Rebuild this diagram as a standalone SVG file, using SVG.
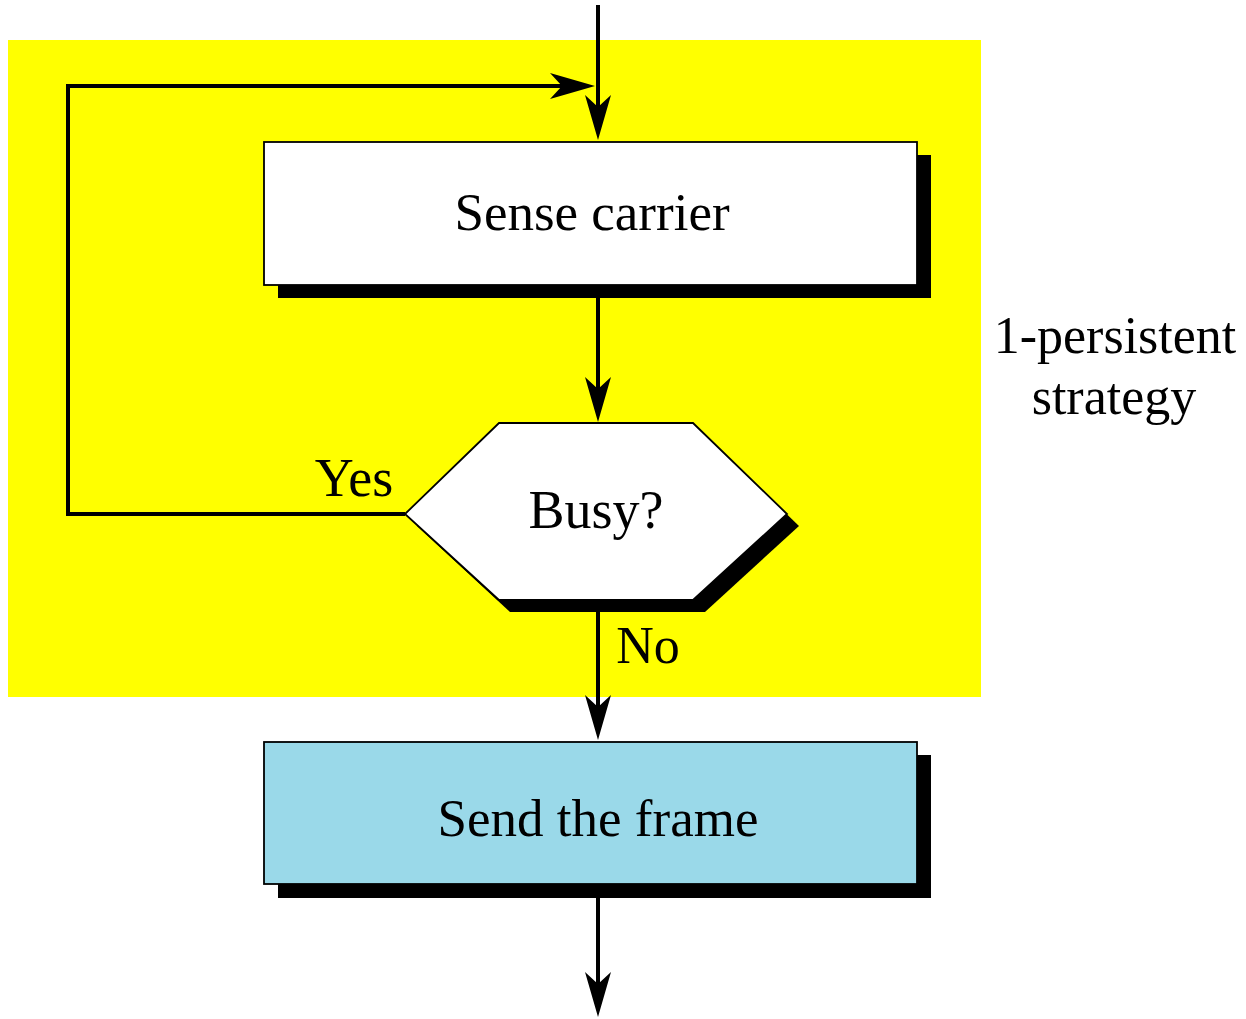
<svg xmlns="http://www.w3.org/2000/svg" width="1246" height="1019" viewBox="0 0 1246 1019">
<style>
.t{font-family:"Liberation Serif","Times New Roman",serif;fill:#000}
.box{stroke:#000;stroke-width:1.8}
.sh{fill:#000}
.c{fill:none;stroke:#000;stroke-width:4}
</style>
<defs>
<marker id="ah" markerUnits="userSpaceOnUse" viewBox="-27 -15 49 30" refX="0" refY="0" markerWidth="49" markerHeight="30" orient="auto">
<path d="M-25,-13 L20,0 L-25,13 L-13,0 Z" fill="#000"/>
</marker>
</defs>
<rect x="0" y="0" width="1246" height="1019" fill="#fff"/>
<rect id="region" x="8" y="40" width="973" height="657" fill="#ffff00"/>
<g id="connectors">
<path class="c" d="M598,5 V120" marker-end="url(#ah)"/>
<path class="c" d="M405,514 H68 V86 H575" marker-end="url(#ah)"/>
<path class="c" d="M598,298 V402" marker-end="url(#ah)"/>
<path class="c" d="M598,612 V720" marker-end="url(#ah)"/>
<path class="c" d="M598,898 V997" marker-end="url(#ah)"/>
</g>
<g id="sense">
<rect class="sh" x="278" y="155" width="653" height="143"/>
<rect class="box" x="264" y="142" width="653" height="143" fill="#fff"/>
<text class="t" x="592" y="230" font-size="53" text-anchor="middle">Sense carrier</text>
</g>
<g id="busy">
<polygon class="sh" points="417,526 510,435 705,435 799,526 705,612 510,612"/>
<polygon class="box" points="405,514 499,423 693,423 787,514 693,600 499,600" fill="#fff"/>
<text class="t" x="596" y="528" font-size="54" text-anchor="middle">Busy?</text>
</g>
<g id="send">
<rect class="sh" x="278" y="755" width="653" height="143"/>
<rect class="box" x="264" y="742" width="653" height="142" fill="#9ad9e9"/>
<text class="t" x="598" y="836" font-size="53" text-anchor="middle">Send the frame</text>
</g>
<g id="labels">
<text class="t" x="354" y="496" font-size="54" text-anchor="middle">Yes</text>
<text class="t" x="648" y="663" font-size="52" text-anchor="middle">No</text>
<text class="t" x="1115" y="353" font-size="52" text-anchor="middle">1-persistent</text>
<text class="t" x="1114" y="414" font-size="52" text-anchor="middle">strategy</text>
</g>
</svg>
